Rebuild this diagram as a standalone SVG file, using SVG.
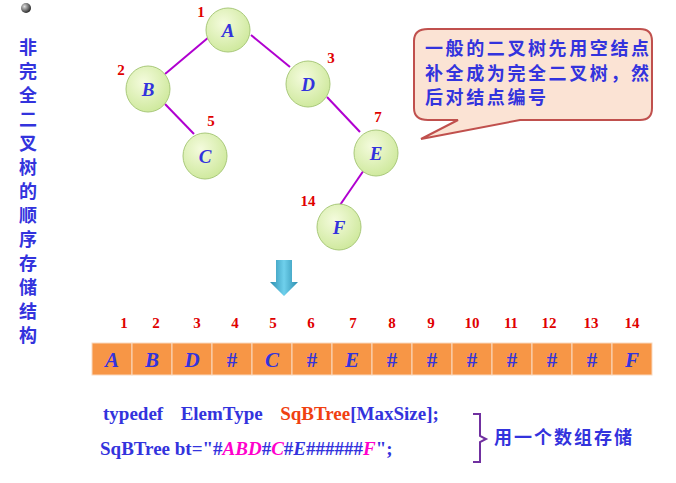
<svg xmlns="http://www.w3.org/2000/svg" width="676" height="483" viewBox="0 0 676 483">
<defs>
<radialGradient id="ng" cx="0.4" cy="0.35" r="0.7"><stop offset="0" stop-color="#F4FBDD"/><stop offset="1" stop-color="#CDE89A"/></radialGradient>
<radialGradient id="bg" cx="0.35" cy="0.35" r="0.7"><stop offset="0" stop-color="#ddd"/><stop offset="1" stop-color="#222"/></radialGradient>
<linearGradient id="ag" x1="0" x2="1"><stop offset="0" stop-color="#2C8FB0"/><stop offset="0.5" stop-color="#6FD0EC"/><stop offset="1" stop-color="#2C8FB0"/></linearGradient>
</defs>
<style>
.n{fill:url(#ng);stroke:#A9C97A;stroke-width:1}
.nl{font:italic bold 19px "Liberation Serif",serif;fill:#3333DD;text-anchor:middle}
.num{font:bold 15px "Liberation Serif",serif;fill:#E00000;text-anchor:middle}
.e{stroke:#B000D0;stroke-width:2}
.c{fill:#F79646;stroke:#FAD9BF;stroke-width:1}
.cl{font:bold 21px "Liberation Serif",serif;fill:#3333DD;text-anchor:middle}
.cj{font:bold 18px "Liberation Serif","Noto Sans CJK SC",serif;fill:#3333DD}
.code{font:bold 19px "Liberation Serif",serif;fill:#3333DD}
</style>
<rect width="676" height="483" fill="#fff"/>
<circle cx="26" cy="8" r="5" fill="url(#bg)"/>
<g id="title" class="cj" text-anchor="middle" font-size="20">
<text x="28" y="54">非</text><text x="28" y="78">完</text><text x="28" y="102">全</text><text x="28" y="126">二</text><text x="28" y="150">叉</text><text x="28" y="174">树</text><text x="28" y="198">的</text><text x="28" y="222">顺</text><text x="28" y="246">序</text><text x="28" y="270">存</text><text x="28" y="294">储</text><text x="28" y="318">结</text><text x="28" y="342">构</text>
</g>
<g id="edges">
<line class="e" x1="209" y1="37" x2="165" y2="74"/>
<line class="e" x1="251" y1="35" x2="290" y2="67"/>
<line class="e" x1="165" y1="104" x2="194" y2="134"/>
<line class="e" x1="327" y1="97" x2="360" y2="132"/>
<line class="e" x1="364" y1="170" x2="340" y2="205"/>
</g>
<g id="nA"><ellipse class="n" cx="228" cy="30" rx="22" ry="22"/><text class="nl" x="228" y="37">A</text><text class="num" x="201" y="17">1</text></g>
<g id="nB"><ellipse class="n" cx="148" cy="89" rx="22" ry="23"/><text class="nl" x="148" y="96">B</text><text class="num" x="121" y="75">2</text></g>
<g id="nD"><ellipse class="n" cx="308" cy="84" rx="22" ry="23"/><text class="nl" x="308" y="91">D</text><text class="num" x="331" y="63">3</text></g>
<g id="nC"><ellipse class="n" cx="205" cy="156" rx="22" ry="23"/><text class="nl" x="205" y="163">C</text><text class="num" x="211" y="126">5</text></g>
<g id="nE"><ellipse class="n" cx="376" cy="153" rx="22" ry="23"/><text class="nl" x="376" y="160">E</text><text class="num" x="378" y="122">7</text></g>
<g id="nF"><ellipse class="n" cx="339" cy="227" rx="22" ry="23"/><text class="nl" x="339" y="234">F</text><text class="num" x="308" y="206">14</text></g>
<g id="callout">
<path d="M428,29 H640 Q652,29 652,41 V108 Q652,120 640,120 H520 L421,139 L458,120 H428 Q414,120 414,108 V41 Q414,29 428,29 Z" fill="#FBE3D4" stroke="#C0504D" stroke-width="2"/>
<text class="cj" font-size="17" letter-spacing="2.6" x="425" y="55">一般的二叉树先用空结点</text>
<text class="cj" font-size="17" letter-spacing="2.6" x="425" y="80">补全成为完全二叉树，然</text>
<text class="cj" font-size="17" letter-spacing="2.6" x="425" y="104">后对结点编号</text>
</g>
<g id="arrow"><path d="M276,260 H292 V282 H298 L284,296 L270,282 H276 Z" fill="url(#ag)"/></g>
<g id="array">
<g class="num">
<text x="124" y="328">1</text><text x="156" y="328">2</text><text x="197" y="328">3</text><text x="235" y="328">4</text><text x="273" y="328">5</text><text x="311" y="328">6</text><text x="353" y="328">7</text><text x="392" y="328">8</text><text x="431" y="328">9</text><text x="472" y="328">10</text><text x="511" y="328">11</text><text x="549" y="328">12</text><text x="591" y="328">13</text><text x="632" y="328">14</text>
</g>
<rect class="c" x="92" y="343" width="40" height="32"/><rect class="c" x="132" y="343" width="40" height="32"/><rect class="c" x="172" y="343" width="40" height="32"/><rect class="c" x="212" y="343" width="40" height="32"/><rect class="c" x="252" y="343" width="40" height="32"/><rect class="c" x="292" y="343" width="40" height="32"/><rect class="c" x="332" y="343" width="40" height="32"/><rect class="c" x="372" y="343" width="40" height="32"/><rect class="c" x="412" y="343" width="40" height="32"/><rect class="c" x="452" y="343" width="40" height="32"/><rect class="c" x="492" y="343" width="40" height="32"/><rect class="c" x="532" y="343" width="40" height="32"/><rect class="c" x="572" y="343" width="40" height="32"/><rect class="c" x="612" y="343" width="40" height="32"/>
<g class="cl">
<text x="112" y="367" font-style="italic">A</text><text x="152" y="367" font-style="italic">B</text><text x="192" y="367" font-style="italic">D</text><text x="232" y="367">#</text><text x="272" y="367" font-style="italic">C</text><text x="312" y="367">#</text><text x="352" y="367" font-style="italic">E</text><text x="392" y="367">#</text><text x="432" y="367">#</text><text x="472" y="367">#</text><text x="512" y="367">#</text><text x="552" y="367">#</text><text x="592" y="367">#</text><text x="632" y="367" font-style="italic">F</text>
</g>
</g>
<g id="code">
<text class="code" x="103" y="420" xml:space="preserve" word-spacing="4">typedef  ElemType  <tspan fill="#F04010">SqBTree</tspan>[MaxSize];</text>
<text class="code" x="100" y="455">SqBTree bt="#<tspan fill="#FF00CC" font-style="italic">ABD</tspan>#<tspan fill="#FF00CC" font-style="italic">C</tspan>#<tspan font-style="italic">E</tspan>######<tspan fill="#FF00CC" font-style="italic">F</tspan>";</text>
<path d="M473,414 H480 V436 L486,439 L480,442 V462 H473" fill="none" stroke="#7030A0" stroke-width="2"/>
<text class="cj" font-size="19" letter-spacing="2" x="494" y="444">用一个数组存储</text>
</g>
</svg>
